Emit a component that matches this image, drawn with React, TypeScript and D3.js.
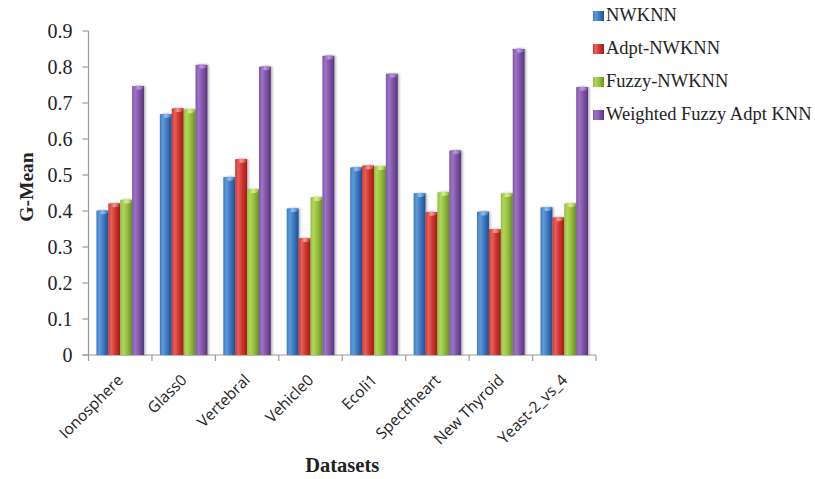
import React from "react";
import * as d3 from "d3";

// G-Mean per dataset for each classifier
const categories = ["Ionosphere", "Glass0", "Vertebral", "Vehicle0", "Ecoli1", "Spectfheart", "New Thyroid", "Yeast-2_vs_4"];
const seriesNames = ["NWKNN", "Adpt-NWKNN", "Fuzzy-NWKNN", "Weighted Fuzzy Adpt KNN"];
const nwknn = [0.401, 0.669, 0.494, 0.407, 0.521, 0.449, 0.398, 0.41];
const adptNwknn = [0.421, 0.685, 0.544, 0.324, 0.526, 0.397, 0.349, 0.382];
const fuzzyNwknn = [0.431, 0.682, 0.46, 0.438, 0.524, 0.452, 0.449, 0.421];
const weightedFuzzyAdptKnn = [0.747, 0.806, 0.801, 0.831, 0.781, 0.568, 0.85, 0.744];
const yTicks = [0, 0.1, 0.2, 0.3, 0.4, 0.5, 0.6, 0.7, 0.8, 0.9];

const seriesValues = [nwknn, adptNwknn, fuzzyNwknn, weightedFuzzyAdptKnn];

// cylinder-like shading: light edge, body, dark edge, cap highlight
const palettes = [
  { light: "#5f9ad9", body: "#3a78c1", dark: "#1f4f8c", cap: "#8fc0ee" },
  { light: "#e8605a", body: "#cf3430", dark: "#9a1f1c", cap: "#f39a94" },
  { light: "#b2d65c", body: "#92bd3b", dark: "#668f22", cap: "#d8ef8c" },
  { light: "#9c74c4", body: "#7f54a9", dark: "#583579", cap: "#b89ad8" },
];

const W = 815;
const H = 479;
const plot = { left: 88.5, right: 596, top: 31, bottom: 355 };

const serif = "'Liberation Serif', 'Times New Roman', serif";
const sans = "'Open Sans', 'Liberation Sans', sans-serif";

export default function App() {
  const x0 = d3.scaleBand<string>().domain(categories).range([plot.left, plot.right]).paddingInner(0.25).paddingOuter(0.125);
  const x1 = d3.scaleBand<number>().domain(d3.range(seriesNames.length)).range([0, x0.bandwidth()]);
  const y = d3.scaleLinear().domain([0, 0.9]).range([plot.bottom, plot.top]);
  const step = x0.step();
  const boundaries = d3.range(categories.length + 1).map((i) => plot.left + i * step);
  const axisColor = "#9a9a9a";

  return (
    <svg width={W} height={H} style={{ position: "absolute", left: 0, top: 0, background: "#fff" }} fontFamily={serif}>
      <defs>
        {palettes.map((p, i) => (
          <linearGradient key={i} id={`bar${i}`} x1="0" x2="1" y1="0" y2="0">
            <stop offset="0" stopColor={p.body} />
            <stop offset="0.25" stopColor={p.light} />
            <stop offset="0.6" stopColor={p.body} />
            <stop offset="1" stopColor={p.dark} />
          </linearGradient>
        ))}
        {palettes.map((p, i) => (
          <linearGradient key={`c${i}`} id={`cap${i}`} x1="0" x2="1" y1="0" y2="0">
            <stop offset="0" stopColor={p.body} />
            <stop offset="0.5" stopColor={p.cap} />
            <stop offset="1" stopColor={p.body} />
          </linearGradient>
        ))}
        <filter id="shadow" x="-30%" y="-5%" width="160%" height="110%">
          <feDropShadow dx="1.5" dy="0" stdDeviation="1.2" floodColor="#000" floodOpacity="0.3" />
        </filter>
      </defs>

      {/* axes */}
      <line x1={plot.left} x2={plot.left} y1={plot.top} y2={plot.bottom} stroke={axisColor} strokeWidth={1.2} />
      {yTicks.map((t) => (
        <g key={t}>
          <line x1={plot.left - 6} x2={plot.left} y1={y(t)} y2={y(t)} stroke={axisColor} strokeWidth={1.2} />
          <text x={plot.left - 16} y={y(t)} dy="0.35em" textAnchor="end" fontSize={20} fill="#222">
            {d3.format("")(t)}
          </text>
        </g>
      ))}
      <line x1={plot.left - 6} x2={plot.right} y1={plot.bottom} y2={plot.bottom} stroke={axisColor} strokeWidth={1.2} />
      {boundaries.map((bx, i) => (
        <line key={i} x1={bx} x2={bx} y1={plot.bottom} y2={plot.bottom + 6} stroke={axisColor} strokeWidth={1.2} />
      ))}

      {/* bars */}
      {categories.map((c, ci) => (
        <g key={c} transform={`translate(${x0(c)},0)`}>
          {seriesValues.map((vals, si) => {
            const bx = x1(si) as number;
            const bw = x1.bandwidth();
            const top = y(vals[ci]);
            return (
              <g key={si} filter="url(#shadow)">
                <rect x={bx} y={top} width={bw} height={plot.bottom - top} fill={`url(#bar${si})`} />
                <ellipse cx={bx + bw / 2} cy={top + 1.5} rx={bw / 2 - 0.5} ry={2.2} fill={`url(#cap${si})`} />
              </g>
            );
          })}
        </g>
      ))}

      {/* category labels */}
      {categories.map((c) => {
        const cx = (x0(c) as number) + x0.bandwidth() / 2 + 4;
        return (
          <text key={c} transform={`translate(${cx},381) rotate(-45)`} textAnchor="end" fontFamily={sans} fontSize={15.5} fill="#222">
            {c}
          </text>
        );
      })}

      {/* axis titles */}
      <text transform={`translate(33,${(plot.top + plot.bottom) / 2 - 6}) rotate(-90)`} textAnchor="middle" fontSize={19.5} fontWeight="bold" fill="#222">
        G-Mean
      </text>
      <text x={(plot.left + plot.right) / 2} y={472} textAnchor="middle" fontSize={20.5} fontWeight="bold" fill="#222">
        Datasets
      </text>

      {/* legend */}
      {seriesNames.map((n, i) => {
        const ly = 21 + i * 33;
        return (
          <g key={n}>
            <rect x={593} y={ly - 10} width={11} height={10} fill={`url(#bar${i})`} />
            <text x={606} y={ly} fontSize={18.5} fill="#222">
              {n}
            </text>
          </g>
        );
      })}
    </svg>
  );
}
